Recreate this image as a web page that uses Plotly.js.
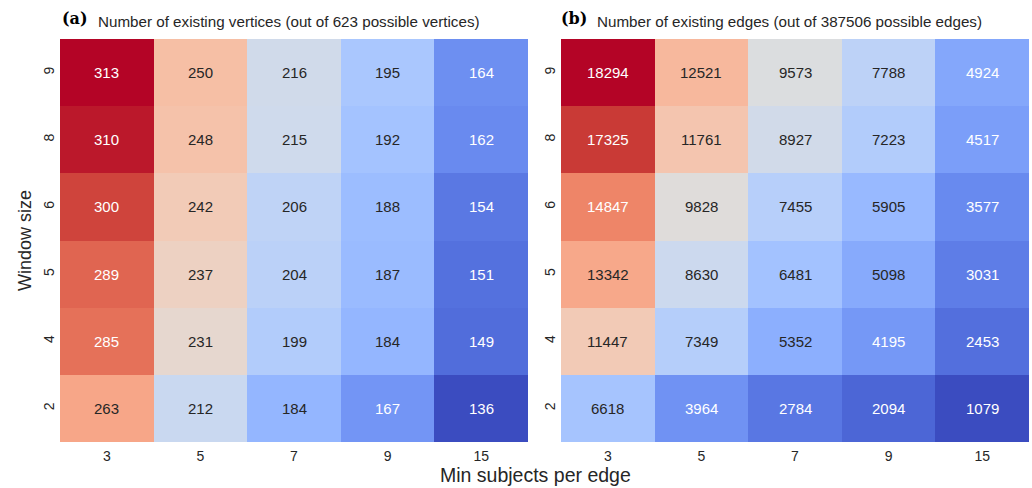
<!DOCTYPE html>
<html><head><meta charset="utf-8">
<script src="https://cdn.plot.ly/plotly-3.0.1.min.js"></script>
<style>html,body{margin:0;padding:0;background:#fff;}</style>
</head><body>
<div id="chart" style="width:1032px;height:488px;"></div>
<script>
const minSubjects = ['3','5','7','9','15'];
const windowSizes = ['2','4','5','6','8','9'];  // bottom to top
// rows ordered as windowSizes
const vertices = [
  [263, 212, 184, 167, 136],
  [285, 231, 199, 184, 149],
  [289, 237, 204, 187, 151],
  [300, 242, 206, 188, 154],
  [310, 248, 215, 192, 162],
  [313, 250, 216, 195, 164]
];
const edges = [
  [6618, 3964, 2784, 2094, 1079],
  [11447, 7349, 5352, 4195, 2453],
  [13342, 8630, 6481, 5098, 3031],
  [14847, 9828, 7455, 5905, 3577],
  [17325, 11761, 8927, 7223, 4517],
  [18294, 12521, 9573, 7788, 4924]
];
const titleA = 'Number of existing vertices (out of 623 possible vertices)';
const titleB = 'Number of existing edges (out of 387506 possible edges)';

const cw = [
[0,59,76,192],[0.03125,68,90,204],[0.0625,77,104,215],[0.09375,87,117,225],
[0.125,98,130,234],[0.15625,108,142,241],[0.1875,119,154,247],[0.21875,130,165,251],
[0.25,141,176,254],[0.28125,152,185,255],[0.3125,163,194,255],[0.34375,174,201,253],
[0.375,184,208,249],[0.40625,194,213,244],[0.4375,204,217,238],[0.46875,213,219,230],
[0.5,221,221,221],[0.53125,229,216,209],[0.5625,236,211,197],[0.59375,241,204,185],
[0.625,245,196,173],[0.65625,247,187,160],[0.6875,247,177,148],[0.71875,247,166,135],
[0.75,244,154,123],[0.78125,241,141,111],[0.8125,236,127,99],[0.84375,229,112,88],
[0.875,222,96,77],[0.90625,213,80,66],[0.9375,203,62,56],[0.96875,192,40,47],[1,180,4,38]];
const colorscale = cw.map(s => [s[0], `rgb(${s[1]},${s[2]},${s[3]})`]);
function colorAt(t){
  for(let i=1;i<cw.length;i++){
    if(t<=cw[i][0]){
      const a=cw[i-1], b=cw[i], f=(t-a[0])/(b[0]-a[0]);
      return [0,1,2].map(k=>a[k+1]+(b[k+1]-a[k+1])*f);
    }
  }
  return cw[cw.length-1].slice(1);
}
function lum(rgb){
  const c = rgb.map(v=>{v/=255; return v<=0.03928? v/12.92 : Math.pow((v+0.055)/1.055,2.4);});
  return 0.2126*c[0]+0.7152*c[1]+0.0722*c[2];
}
const FONT = 'Liberation Sans, Arial, sans-serif';
const annotations = [];
function addCells(z, xa, ya){
  const flat = z.flat(); const mn = Math.min(...flat), mx = Math.max(...flat);
  z.forEach((row, i) => row.forEach((v, j) => {
    const L = lum(colorAt((v-mn)/(mx-mn)));
    // category axes: positions are category indices
    annotations.push({x: j, y: i, xref: xa, yref: ya,
      text: String(v), showarrow: false,
      font: {family: FONT, size: 15, color: L < 0.408 ? '#ffffff' : '#262626'}});
  }));
}
addCells(vertices, 'x', 'y');
addCells(edges, 'x2', 'y2');
annotations.push(
  {xref:'paper', yref:'paper', x:60/1032, y:1-19/488, xanchor:'left', yanchor:'middle', showarrow:false,
   text:'<b>(a)</b>', font:{family:'DejaVu Serif, Liberation Serif, serif', size:16, color:'#000'}},
  {xref:'paper', yref:'paper', x:96/1032, y:1-21/488, xanchor:'left', yanchor:'middle', showarrow:false,
   text:titleA, font:{family:FONT, size:15.2, color:'#262626'}},
  {xref:'paper', yref:'paper', x:559/1032, y:1-19/488, xanchor:'left', yanchor:'middle', showarrow:false,
   text:'<b>(b)</b>', font:{family:'DejaVu Serif, Liberation Serif, serif', size:16, color:'#000'}},
  {xref:'paper', yref:'paper', x:595/1032, y:1-21/488, xanchor:'left', yanchor:'middle', showarrow:false,
   text:titleB, font:{family:FONT, size:15.2, color:'#262626'}},
  {xref:'paper', yref:'paper', x:535/1032, y:1-475/488, xanchor:'center', yanchor:'middle', showarrow:false,
   text:'Min subjects per edge', font:{family:FONT, size:19.5, color:'#262626'}},
  {xref:'paper', yref:'paper', x:25/1032, y:1-241/488, xanchor:'center', yanchor:'middle', showarrow:false,
   textangle:-90, text:'Window size', font:{family:FONT, size:18, color:'#262626'}}
);

const traces = [
  {type:'heatmap', x:minSubjects, y:windowSizes, z:vertices, colorscale, showscale:false,
   xaxis:'x', yaxis:'y', hoverinfo:'skip'},
  {type:'heatmap', x:minSubjects, y:windowSizes, z:edges, colorscale, showscale:false,
   xaxis:'x2', yaxis:'y2', hoverinfo:'skip'}
];
const yDom = [1-442/488, 1-39/488];
const axCommon = {type:'category', showgrid:false, zeroline:false, showline:false, ticks:'',
  tickfont:{family:FONT, size:14, color:'#262626'}};
const xr = [-0.5, minSubjects.length-0.5], yr = [-0.5, windowSizes.length-0.5];
const layout = {
  width:1032, height:488, margin:{l:0,r:0,t:0,b:0},
  paper_bgcolor:'#fff', plot_bgcolor:'#fff', showlegend:false,
  xaxis: Object.assign({}, axCommon, {domain:[60/1032, 528/1032], anchor:'y', range:xr, ticklabelstandoff:4}),
  yaxis: Object.assign({}, axCommon, {domain:yDom, anchor:'x', range:yr, tickangle:-90, ticklabelstandoff:2}),
  xaxis2: Object.assign({}, axCommon, {domain:[561/1032, 1029/1032], anchor:'y2', range:xr, ticklabelstandoff:4}),
  yaxis2: Object.assign({}, axCommon, {domain:yDom, anchor:'x2', range:yr, tickangle:-90, ticklabelstandoff:2}),
  annotations
};
Plotly.newPlot('chart', traces, layout, {staticPlot:true, displayModeBar:false});
</script>
</body></html>
